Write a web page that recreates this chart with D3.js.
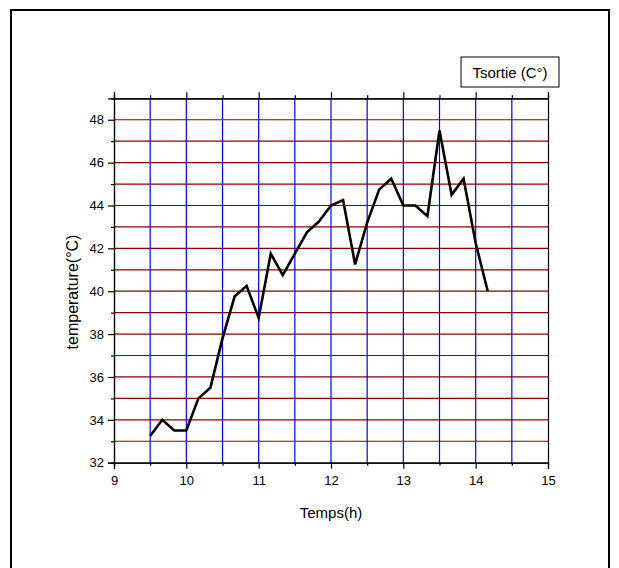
<!DOCTYPE html>
<html>
<head>
<meta charset="utf-8">
<script src="https://cdn.jsdelivr.net/npm/d3@7"></script>
<style>
  body { margin: 0; background: #fff; }
  text { font-family: "Liberation Sans", Arial, sans-serif; fill: #000; }
</style>
</head>
<body>
<div id="chart"></div>
<script>
// time in hours (every 10 min) and outlet temperature
const hours = [9.5, 9.667, 9.833, 10, 10.167, 10.333, 10.5, 10.667, 10.833, 11,
  11.167, 11.333, 11.5, 11.667, 11.833, 12, 12.167, 12.333, 12.5, 12.667,
  12.833, 13, 13.167, 13.333, 13.5, 13.667, 13.833, 14, 14.167];
const tsortie = [33.25, 34, 33.5, 33.5, 35, 35.5, 37.8, 39.75, 40.25, 38.75,
  41.75, 40.75, 41.75, 42.75, 43.25, 44, 44.25, 41.25, 43.2, 44.75,
  45.25, 44, 44, 43.5, 47.5, 44.5, 45.25, 42.25, 40];

const xMajor = [9, 10, 11, 12, 13, 14, 15];
const xMinor = [9.5, 10.5, 11.5, 12.5, 13.5, 14.5];
const yMajor = [32, 34, 36, 38, 40, 42, 44, 46, 48];
const yMinor = [33, 35, 37, 39, 41, 43, 45, 47];
const xGrid = [9.5, 10, 10.5, 11, 11.5, 12, 12.5, 13, 13.5, 14, 14.5];
const yGrid = [33, 34, 35, 36, 37, 38, 39, 40, 41, 42, 43, 44, 45, 46, 47, 48];

const W = 619, H = 568;
const plot = {left: 114, right: 548, top: 98.3, bottom: 462.7};

const svg = d3.select('#chart').append('svg')
  .attr('width', W).attr('height', H);

// outer frame
svg.append('rect')
  .attr('x', 11).attr('y', 10)
  .attr('width', 598).attr('height', 600)
  .attr('fill', 'none').attr('stroke', '#000').attr('stroke-width', 2);

const x = d3.scaleLinear().domain([9, 15]).range([plot.left, plot.right]);
const y = d3.scaleLinear().domain([32, 49]).range([plot.bottom, plot.top]);

// grid
svg.append('g').selectAll('line')
  .data(yGrid).enter().append('line')
  .attr('x1', plot.left).attr('x2', plot.right)
  .attr('y1', d => y(d)).attr('y2', d => y(d))
  .attr('stroke', '#8b0000').attr('stroke-width', 1.2);

svg.append('g').selectAll('line')
  .data(xGrid).enter().append('line')
  .attr('x1', d => x(d)).attr('x2', d => x(d))
  .attr('y1', plot.top).attr('y2', plot.bottom)
  .attr('stroke', '#0000ff').attr('stroke-width', 1.2);

// axes (major ticks with labels, minor ticks shorter)
function styleAxis(g) {
  g.select('.domain').attr('stroke', '#000').attr('stroke-width', 1.2);
  g.selectAll('.tick line').attr('stroke', '#000').attr('stroke-width', 1.2);
  g.selectAll('.tick text').style('font-size', '13px');
}

svg.append('g')
  .attr('transform', 'translate(0,' + plot.bottom + ')')
  .call(d3.axisBottom(x).tickValues(xMajor).tickSize(6).tickPadding(7).tickFormat(d3.format('d')))
  .call(styleAxis);
svg.append('g')
  .attr('transform', 'translate(0,' + plot.bottom + ')')
  .call(d3.axisBottom(x).tickValues(xMinor).tickSize(3).tickFormat(''))
  .call(styleAxis);

svg.append('g')
  .attr('transform', 'translate(0,' + plot.top + ')')
  .call(d3.axisTop(x).tickValues(xMajor).tickSize(6).tickFormat(''))
  .call(styleAxis);
svg.append('g')
  .attr('transform', 'translate(0,' + plot.top + ')')
  .call(d3.axisTop(x).tickValues(xMinor).tickSize(3).tickFormat(''))
  .call(styleAxis);

svg.append('g')
  .attr('transform', 'translate(' + plot.left + ',0)')
  .call(d3.axisLeft(y).tickValues(yMajor).tickSize(6).tickPadding(4).tickFormat(d3.format('d')))
  .call(styleAxis);
svg.append('g')
  .attr('transform', 'translate(' + plot.left + ',0)')
  .call(d3.axisLeft(y).tickValues(yMinor).tickSize(3).tickFormat(''))
  .call(styleAxis);

svg.append('g')
  .attr('transform', 'translate(' + plot.right + ',0)')
  .call(d3.axisRight(y).tickValues([]).tickSizeOuter(0))
  .call(styleAxis);

// data line
const line = d3.line()
  .x((d, i) => x(hours[i]))
  .y(d => y(d));

svg.append('path')
  .datum(tsortie)
  .attr('d', line)
  .attr('fill', 'none')
  .attr('stroke', '#000')
  .attr('stroke-width', 2.6)
  .attr('stroke-linejoin', 'miter');

// axis titles
svg.append('text')
  .attr('x', (plot.left + plot.right) / 2).attr('y', 518)
  .attr('text-anchor', 'middle')
  .style('font-size', '15px')
  .text('Temps(h)');

svg.append('text')
  .attr('transform', 'translate(78,292) rotate(-90)')
  .attr('text-anchor', 'middle')
  .style('font-size', '16px')
  .text('temperature(°C)');

// legend
svg.append('rect')
  .attr('x', 461).attr('y', 57)
  .attr('width', 98).attr('height', 30)
  .attr('fill', '#fff').attr('stroke', '#000').attr('stroke-width', 1);
svg.append('text')
  .attr('x', 510).attr('y', 78)
  .attr('text-anchor', 'middle')
  .style('font-size', '15px')
  .text('Tsortie (C°)');
</script>
</body>
</html>
